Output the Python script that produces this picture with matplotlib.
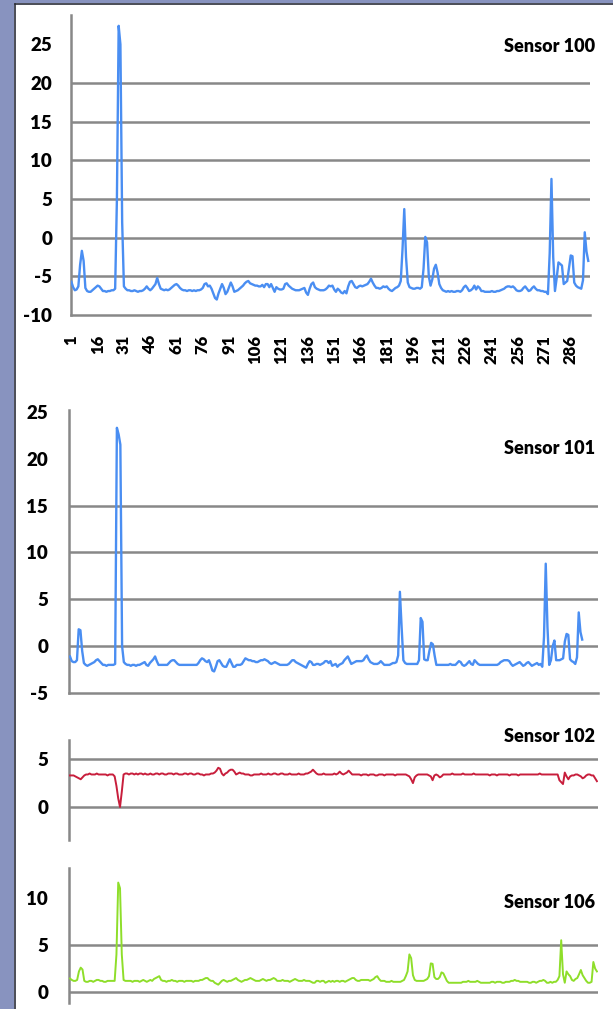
import numpy as np
import matplotlib
matplotlib.use("Agg")
import matplotlib.pyplot as plt
from matplotlib.patches import Rectangle
from matplotlib.lines import Line2D

plt.rcParams['font.family'] = ['Lato', 'DejaVu Sans']
plt.rcParams['font.weight'] = 'bold'

# ---------------- data ----------------
s100 = [
    -5.7, -6.4, -6.8, -6.7, -6.3, -3.5, -1.7, -3.0, -6.5, -6.9,
    -7.0, -7.0, -6.8, -6.6, -6.4, -6.2, -6.3, -6.6, -6.9, -6.9,
    -7.0, -6.9, -6.9, -6.8, -6.8, -6.6, 5.0, 27.4, 25.0, 2.0,
    -6.3, -6.6, -6.8, -6.8, -6.9, -6.9, -6.8, -6.9, -7.0, -6.9,
    -6.9, -6.8, -6.6, -6.3, -6.6, -6.8, -6.6, -6.3, -6.0, -5.2,
    -6.0, -6.6, -6.7, -6.8, -6.7, -6.8, -6.7, -6.5, -6.3, -6.1,
    -6.0, -6.2, -6.5, -6.7, -6.8, -6.8, -6.9, -6.8, -6.8, -6.9,
    -6.8, -6.9, -6.8, -6.8, -6.7, -6.5, -6.0, -5.9, -6.3, -6.2,
    -6.6, -7.2, -7.8, -8.0, -7.2, -6.6, -6.0, -6.5, -7.3, -7.0,
    -6.4, -5.8, -6.3, -7.0, -6.9, -6.8, -6.6, -6.4, -6.2, -5.9,
    -5.7, -5.6, -5.9, -6.0, -6.1, -6.2, -6.2, -6.3, -6.3, -6.1,
    -6.4, -6.0, -6.0, -6.4, -6.0, -6.5, -7.0, -6.4, -6.6, -6.7,
    -6.7, -6.6, -6.0, -5.9, -6.2, -6.4, -6.6, -6.7, -6.8, -6.8,
    -6.8, -6.7, -6.6, -6.5, -7.1, -7.4, -6.6, -6.0, -5.8, -6.4,
    -6.6, -6.7, -6.8, -6.8, -6.8, -6.7, -6.5, -6.2, -6.3, -6.2,
    -6.7, -7.0, -6.6, -6.8, -7.1, -7.2, -6.9, -7.2, -6.3, -5.7,
    -5.6, -6.0, -6.4, -6.5, -6.3, -6.2, -6.3, -6.2, -6.1, -6.0,
    -5.7, -5.3, -5.8, -6.2, -6.5, -6.5, -6.6, -6.5, -6.3, -6.4,
    -6.3, -6.6, -6.8, -6.9, -6.7, -6.5, -6.4, -6.2, -5.6, -1.5,
    3.7, -2.5, -5.8, -6.4, -6.5, -6.6, -6.6, -6.5, -6.5, -6.6,
    -6.4, -4.0, 0.1, -0.6, -5.0, -6.2, -5.4, -4.0, -3.5, -4.5,
    -6.0, -6.5, -6.8, -6.9, -7.0, -6.9, -7.0, -6.9, -7.0, -7.0,
    -6.9, -6.9, -7.0, -6.8, -6.4, -6.2, -6.5, -6.9, -6.8, -6.6,
    -6.2, -6.7, -6.3, -6.5, -6.9, -6.9, -7.0, -7.0, -7.0, -7.0,
    -6.9, -7.0, -7.0, -6.9, -6.9, -6.8, -6.7, -6.6, -6.4, -6.3,
    -6.3, -6.4, -6.3, -6.5, -6.8, -6.9, -6.9, -6.8, -6.5, -6.3,
    -6.6, -6.9, -6.8, -6.5, -6.3, -6.6, -6.8, -6.8, -6.9, -6.9,
    -7.0, -7.0, -7.3, -2.0, 7.6, -2.5, -6.9, -5.2, -3.2, -3.4,
    -3.6, -6.0, -5.8, -5.6, -4.0, -2.3, -2.4, -5.8, -6.2, -6.4,
    -6.5, -6.6, -5.5, 0.7, -1.8, -3.0,
]

s101 = [
    -1.1, -1.6, -1.7, -1.7, -1.5, 1.8, 1.7, -0.5, -1.8, -2.0,
    -2.1, -2.0, -1.9, -1.8, -1.7, -1.5, -1.4, -1.6, -1.8, -2.0,
    -2.0, -2.1, -2.0, -2.0, -2.0, -2.0, -1.9, 23.3, 22.6, 21.5,
    0.0, -1.7, -1.9, -2.0, -2.0, -2.1, -2.0, -2.0, -2.1, -2.0,
    -2.0, -1.9, -1.8, -1.7, -2.0, -2.1, -1.8, -1.6, -1.4, -1.1,
    -1.6, -2.0, -2.0, -2.0, -2.0, -2.0, -2.0, -1.8, -1.6, -1.5,
    -1.5, -1.7, -1.9, -2.0, -2.0, -2.0, -2.0, -2.0, -2.0, -2.0,
    -2.0, -2.0, -2.0, -2.0, -1.8, -1.5, -1.3, -1.4, -1.6, -1.7,
    -1.5, -2.0, -2.6, -2.7, -2.2, -1.6, -1.5, -1.8, -2.1, -2.2,
    -2.2, -1.8, -1.4, -1.8, -2.2, -2.2, -2.0, -2.0, -2.0, -1.9,
    -1.6, -1.3, -1.4, -1.5, -1.5, -1.6, -1.6, -1.7, -1.7, -1.6,
    -1.5, -1.5, -1.4, -1.5, -1.6, -1.8, -1.9, -1.8, -1.7, -1.8,
    -1.9, -2.0, -2.0, -2.0, -2.0, -2.0, -1.9, -1.7, -1.5, -1.5,
    -1.7, -1.8, -1.9, -2.0, -2.1, -2.2, -2.3, -1.9, -1.6, -1.7,
    -2.0, -2.0, -1.9, -1.9, -2.0, -1.9, -1.8, -1.6, -1.6, -1.8,
    -1.6, -2.1, -2.0, -1.9, -2.2, -2.0, -1.9, -1.8, -1.5, -1.3,
    -1.1, -1.5, -1.9, -1.8, -1.7, -1.6, -1.6, -1.6, -1.6, -1.5,
    -1.2, -1.0, -1.4, -1.7, -1.8, -1.9, -1.9, -1.9, -1.8, -1.6,
    -1.8, -2.0, -2.0, -2.0, -2.0, -1.9, -1.8, -1.8, -1.7, -1.0,
    5.8, 2.0, -1.5, -1.8, -1.9, -1.9, -1.9, -1.9, -1.9, -1.9,
    -1.9, -1.5, 3.0, 2.6, -1.4, -1.5, -1.5, -0.5, 0.35, 0.2,
    -1.0, -2.0, -2.0, -2.0, -2.0, -2.0, -2.0, -2.0, -2.0, -1.9,
    -2.0, -2.0, -2.0, -1.8, -1.6, -1.7, -2.0, -2.1, -2.0, -1.8,
    -1.6, -1.9, -2.0, -1.5, -1.7, -1.9, -2.0, -2.0, -2.0, -2.0,
    -2.0, -2.0, -2.0, -2.0, -2.0, -2.0, -2.0, -1.9, -1.7, -1.6,
    -1.5, -1.5, -1.5, -1.6, -1.9, -2.1, -2.0, -1.9, -1.8, -1.7,
    -1.9, -2.1, -2.0, -1.8, -1.7, -1.9, -2.1, -2.0, -1.9, -1.8,
    -2.0, -1.9, -2.2, 1.0, 8.8, 2.0, -2.0, -1.5, 0.0, 0.6,
    -1.5, -1.5, -1.5, -1.4, -1.3, 0.5, 1.3, 1.2, -1.4, -1.6,
    -1.7, -1.9, -1.2, 3.6, 1.5, 0.7,
]

s102 = [
    3.3, 3.3, 3.3, 3.2, 3.1, 3.0, 2.9, 3.1, 3.3, 3.4,
    3.4, 3.5, 3.4, 3.4, 3.4, 3.5, 3.4, 3.4, 3.4, 3.4,
    3.4, 3.3, 3.4, 3.4, 3.4, 3.2, 2.2, 0.9, 0.0, 1.6,
    3.4, 3.5, 3.5, 3.4, 3.5, 3.5, 3.4, 3.5, 3.4, 3.5,
    3.5, 3.4, 3.5, 3.4, 3.4, 3.5, 3.4, 3.4, 3.5, 3.5,
    3.4, 3.5, 3.5, 3.4, 3.4, 3.5, 3.5, 3.5, 3.4, 3.5,
    3.5, 3.4, 3.4, 3.4, 3.5, 3.5, 3.4, 3.5, 3.5, 3.4,
    3.4, 3.5, 3.5, 3.4, 3.4, 3.3, 3.4, 3.4, 3.4, 3.5,
    3.5, 3.6, 3.8, 4.1, 4.0, 3.5, 3.3, 3.5, 3.6, 3.8,
    3.9, 3.9, 3.7, 3.4, 3.5, 3.6, 3.5, 3.5, 3.4, 3.4,
    3.4, 3.3, 3.3, 3.4, 3.4, 3.4, 3.4, 3.5, 3.4, 3.4,
    3.4, 3.5, 3.4, 3.4, 3.5, 3.5, 3.4, 3.4, 3.5, 3.5,
    3.4, 3.4, 3.4, 3.5, 3.4, 3.4, 3.4, 3.4, 3.5, 3.4,
    3.4, 3.4, 3.5, 3.5, 3.6, 3.7, 3.9, 3.7, 3.5, 3.4,
    3.4, 3.4, 3.5, 3.4, 3.4, 3.4, 3.4, 3.4, 3.5, 3.4,
    3.5, 3.7, 3.5, 3.4, 3.5, 3.6, 3.8, 3.6, 3.4, 3.4,
    3.4, 3.4, 3.4, 3.3, 3.4, 3.4, 3.4, 3.3, 3.4, 3.4,
    3.4, 3.3, 3.3, 3.4, 3.4, 3.4, 3.3, 3.4, 3.4, 3.4,
    3.4, 3.4, 3.3, 3.4, 3.4, 3.4, 3.4, 3.4, 3.4, 3.3,
    3.2, 2.9, 2.5, 3.1, 3.3, 3.4, 3.4, 3.4, 3.4, 3.4,
    3.4, 3.3, 3.2, 2.8, 3.3, 3.4, 3.3, 3.1, 3.2, 3.4,
    3.4, 3.4, 3.4, 3.4, 3.5, 3.4, 3.4, 3.4, 3.4, 3.4,
    3.5, 3.4, 3.4, 3.4, 3.4, 3.4, 3.5, 3.4, 3.4, 3.4,
    3.4, 3.4, 3.4, 3.4, 3.4, 3.3, 3.4, 3.4, 3.4, 3.3,
    3.4, 3.4, 3.4, 3.4, 3.4, 3.4, 3.3, 3.4, 3.4, 3.4,
    3.4, 3.3, 3.4, 3.4, 3.4, 3.4, 3.4, 3.4, 3.4, 3.4,
    3.4, 3.4, 3.4, 3.5, 3.4, 3.4, 3.4, 3.4, 3.4, 3.4,
    3.4, 3.4, 3.4, 3.4, 2.8, 2.6, 2.4, 3.6, 3.2, 2.9,
    3.2, 3.3, 3.3, 3.4, 3.4, 3.3, 3.2, 3.0, 3.1, 3.3,
    3.4, 3.4, 3.3, 3.3, 3.0, 2.7,
]

s106 = [
    1.45, 1.3, 1.2, 1.2, 1.3, 2.2, 2.6, 2.4, 1.2, 1.1,
    1.1, 1.2, 1.2, 1.1, 1.2, 1.3, 1.3, 1.2, 1.2, 1.1,
    1.1, 1.2, 1.2, 1.2, 1.2, 1.2, 4.0, 11.6, 11.0, 4.0,
    1.3, 1.2, 1.2, 1.2, 1.2, 1.1, 1.2, 1.2, 1.2, 1.1,
    1.2, 1.3, 1.2, 1.1, 1.2, 1.3, 1.2, 1.4, 1.5, 1.6,
    1.7, 1.3, 1.2, 1.2, 1.1, 1.2, 1.2, 1.3, 1.2, 1.2,
    1.1, 1.2, 1.2, 1.2, 1.1, 1.2, 1.2, 1.2, 1.2, 1.1,
    1.2, 1.2, 1.2, 1.3, 1.3, 1.4, 1.5, 1.5, 1.3, 1.2,
    1.2, 1.0, 0.9, 0.8, 1.0, 1.2, 1.3, 1.2, 1.1, 1.2,
    1.2, 1.3, 1.4, 1.5, 1.3, 1.2, 1.1, 1.2, 1.3, 1.3,
    1.4, 1.5, 1.4, 1.3, 1.2, 1.2, 1.2, 1.3, 1.4, 1.3,
    1.2, 1.3, 1.3, 1.4, 1.5, 1.4, 1.2, 1.2, 1.2, 1.3,
    1.2, 1.2, 1.2, 1.1, 1.2, 1.3, 1.4, 1.3, 1.2, 1.2,
    1.2, 1.3, 1.2, 1.2, 1.2, 1.1, 1.0, 1.0, 1.2, 1.2,
    1.1, 1.2, 1.2, 1.0, 1.1, 1.2, 1.1, 1.2, 1.1, 1.2,
    1.2, 1.1, 1.2, 1.2, 1.1, 1.2, 1.3, 1.4, 1.5, 1.5,
    1.3, 1.2, 1.2, 1.3, 1.3, 1.3, 1.3, 1.3, 1.2, 1.3,
    1.4, 1.6, 1.7, 1.4, 1.2, 1.2, 1.2, 1.1, 1.1, 1.1,
    1.2, 1.1, 1.1, 1.1, 1.1, 1.1, 1.2, 1.3, 1.7, 2.2,
    4.0, 3.6, 1.8, 1.3, 1.2, 1.2, 1.2, 1.2, 1.2, 1.3,
    1.4, 1.7, 3.05, 3.0, 1.6, 1.4, 1.4, 1.6, 2.1, 2.0,
    1.6, 1.2, 1.0, 1.0, 1.0, 1.0, 1.0, 1.0, 1.0, 1.0,
    1.1, 1.1, 1.1, 1.2, 1.1, 1.1, 1.1, 1.1, 1.2, 1.1,
    1.0, 1.0, 1.0, 1.0, 1.0, 1.0, 1.1, 1.1, 1.0, 1.1,
    1.1, 1.1, 1.0, 1.0, 1.1, 1.1, 1.1, 1.2, 1.2, 1.3,
    1.2, 1.2, 1.1, 1.1, 1.1, 1.1, 1.1, 1.0, 1.0, 1.1,
    1.1, 1.0, 1.1, 1.2, 1.2, 1.3, 1.2, 1.0, 1.0, 1.1,
    1.0, 1.1, 1.1, 1.3, 1.7, 5.5, 1.9, 1.0, 2.2, 1.9,
    1.7, 1.3, 1.2, 1.4, 1.5, 1.9, 2.35, 1.8, 1.5, 1.2,
    1.0, 1.0, 1.1, 3.2, 2.5, 2.2,
]

x_tick_values = list(range(1, 287, 15))
x_tick_labels = [str(v) for v in x_tick_values]

titles = ["Sensor 100", "Sensor 101", "Sensor 102", "Sensor 106"]
yticks_100 = [-10, -5, 0, 5, 10, 15, 20, 25]
grid_100 = [-5, 0, 5, 10, 15, 20]
yticks_101 = [-5, 0, 5, 10, 15, 20, 25]
grid_101 = [0, 5, 10, 15]
yticks_102 = [0, 5]
grid_102 = [0, 5]
yticks_106 = [0, 5, 10]
grid_106 = [0, 5]

# ---------------- style ----------------
W, H = 613, 1009
BLUE = '#4a8ef2'
RED = '#c81e3c'
GREEN = '#8ede2a'
GRID = '#888888'
BAND = '#8893bf'

fig = plt.figure(figsize=(W / 100, H / 100), dpi=100)
fig.patch.set_facecolor('white')


def px_rect(left, top, right, bottom):
    return [left / W, 1 - bottom / H, (right - left) / W, (bottom - top) / H]


def make_ax(rect, xlim, ylim, yticks, grid_vals, bottom_spine, pad_px):
    ax = fig.add_axes(rect)
    ax.set_xlim(*xlim)
    ax.set_ylim(*ylim)
    for v in grid_vals:
        ax.axhline(v, color=GRID, lw=1.8, zorder=1)
    for s in ['top', 'right']:
        ax.spines[s].set_visible(False)
    ax.spines['left'].set_color(GRID)
    ax.spines['left'].set_linewidth(1.8)
    if bottom_spine:
        ax.spines['bottom'].set_color(GRID)
        ax.spines['bottom'].set_linewidth(1.8)
    else:
        ax.spines['bottom'].set_visible(False)
    ax.set_yticks(yticks)
    ax.set_yticklabels([str(v) for v in yticks], fontsize=13.5, fontweight='heavy')
    ax.tick_params(axis='y', length=0, pad=pad_px * 0.72)
    ax.set_xticks([])
    ax.set_facecolor('none')
    return ax


# Panel 1: Sensor 100
ax1 = make_ax(px_rect(71, 15, 590, 315), (0.8, 297.0), (-10, 28.8),
              yticks_100, grid_100, True, 19)
ax1.plot(np.arange(1, len(s100) + 1), s100, color=BLUE, lw=1.7, zorder=3)
ax1.set_xticks(x_tick_values)
ax1.set_xticklabels(x_tick_labels, rotation=90, fontsize=12, fontweight='heavy')
ax1.tick_params(axis='x', length=0, pad=20 * 0.72)

# Panel 2: Sensor 101
ax2 = make_ax(px_rect(69, 410, 598, 693), (0.42, 305.1), (-5, 25.2),
              yticks_101, grid_101, True, 21)
ax2.plot(np.arange(1, len(s101) + 1), s101, color=BLUE, lw=1.7, zorder=3)

# Panel 3: Sensor 102
ax3 = make_ax(px_rect(69, 740, 598, 840), (0.44, 296.6), (-3.44, 7.0),
              yticks_102, grid_102, False, 21)
ax3.plot(np.arange(1, len(s102) + 1), s102, color=RED, lw=1.4, zorder=3)

# Panel 4: Sensor 106
ax4 = make_ax(px_rect(69, 868, 598, 1003), (0.44, 296.6), (-1.14, 13.14),
              yticks_106, grid_106, False, 21)
ax4.plot(np.arange(1, len(s106) + 1), s106, color=GREEN, lw=1.4, zorder=3)

# Titles
title_y = [47, 448, 736, 902]
for t, yy in zip(titles, title_y):
    fig.text(595 / W, 1 - yy / H, t, ha='right', va='center',
             fontsize=13, fontweight='heavy', color='black')

# Frame bands (left and top)
fig.add_artist(Rectangle((0, 0), 14 / W, 1, transform=fig.transFigure,
                         facecolor=BAND, edgecolor='none', zorder=0))
fig.add_artist(Rectangle((0, 1 - 3 / H), 1, 3 / H, transform=fig.transFigure,
                         facecolor=BAND, edgecolor='none', zorder=0))
fig.add_artist(Line2D([14.7 / W, 14.7 / W], [0, 1 - 3.5 / H], transform=fig.transFigure,
                      color='#2b2d3a', lw=1.2))
fig.add_artist(Line2D([14.7 / W, 1], [1 - 3.7 / H, 1 - 3.7 / H], transform=fig.transFigure,
                      color='#2b2d3a', lw=1.2))

fig.savefig('out.png', dpi=100)
